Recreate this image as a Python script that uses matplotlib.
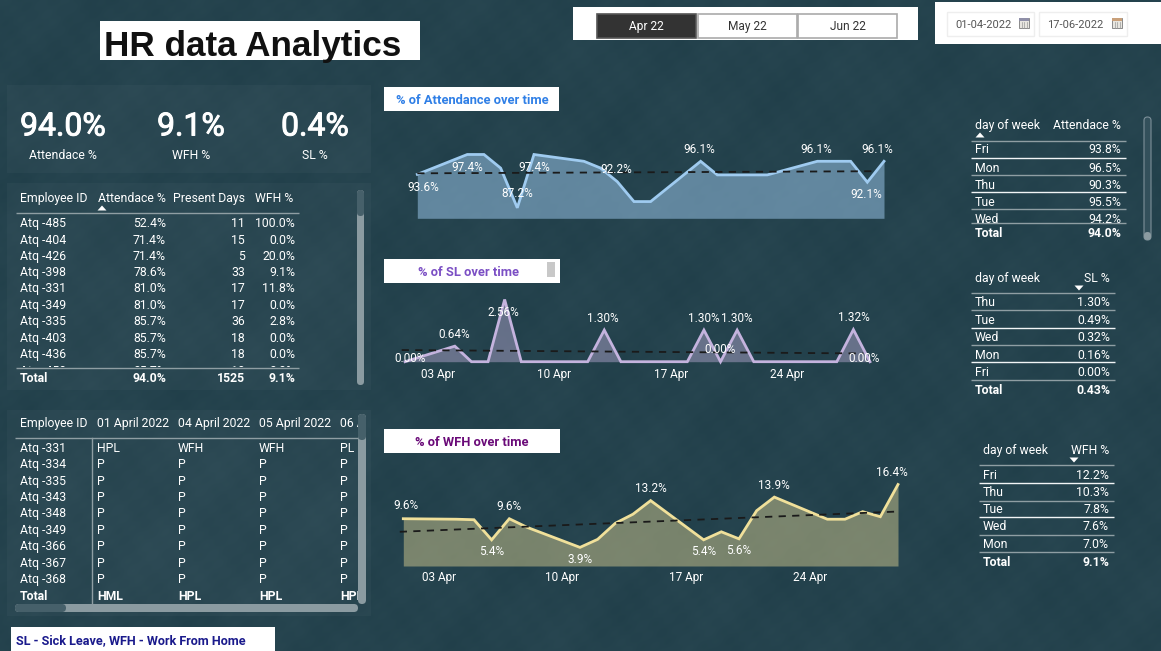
import numpy as np
import matplotlib
matplotlib.use("Agg")
import matplotlib.pyplot as plt
import matplotlib.patheffects as pe
from matplotlib.patches import Rectangle, FancyBboxPatch, Polygon

# 数据
DAYS = [1, 4, 5, 6, 7, 8, 11, 12, 13, 14, 15, 18, 19, 20, 21, 22, 25, 26, 27, 28, 29]
ATT = [93.6, 97.4, 97.4, 94.8, 87.2, 97.4, 96.1, 94.8, 92.2, 88.4, 88.4,
       96.1, 93.5, 93.5, 93.5, 93.5, 96.1, 96.1, 96.1, 92.1, 96.1]
SL = [0.00, 0.64, 0.00, 0.00, 2.56, 0.00, 0.00, 0.00, 1.30, 0.00, 0.00,
      0.00, 1.30, 0.00, 1.30, 0.00, 0.00, 0.00, 0.00, 1.32, 0.00]
WFH = [9.6, 9.5, 9.4, 5.4, 9.6, 7.9, 3.9, 5.5, 8.7, 10.5, 13.2,
       5.4, 7.0, 5.6, 11.2, 13.9, 9.5, 9.5, 11.0, 10.0, 16.4]

ATT_TREND_X, ATT_TREND_Y = [1.0, 28.4], [93.8, 94.2]
SL_TREND_X, SL_TREND_Y = [0.8, 28.6], [0.48, 0.34]
WFH_TREND_X, WFH_TREND_Y = [0.8, 28.8], [7.0, 11.0]

TICK_DAYS = [3, 10, 17, 24]
TICK_LABELS = ["03 Apr", "10 Apr", "17 Apr", "24 Apr"]

KPI_VALUES = ["94.0%", "9.1%", "0.4%"]
KPI_NAMES = ["Attendace %", "WFH %", "SL %"]

EMP_HEADER = ["Employee ID", "Attendace %", "Present Days", "WFH %"]
EMP_IDS = ["Atq -485", "Atq -404", "Atq -426", "Atq -398", "Atq -331", "Atq -349", "Atq -335", "Atq -403", "Atq -436"]
EMP_ATT = ["52.4%", "71.4%", "71.4%", "78.6%", "81.0%", "81.0%", "85.7%", "85.7%", "85.7%"]
EMP_DAYS = ["11", "15", "5", "33", "17", "17", "36", "18", "18"]
EMP_WFH = ["100.0%", "0.0%", "20.0%", "9.1%", "11.8%", "0.0%", "2.8%", "0.0%", "0.0%"]
EMP_CUT = ["Atq -458", "85.7%", "18", "0.0%"]
EMP_TOTAL = ["Total", "94.0%", "1525", "9.1%"]

ROSTER_HEADER = ["Employee ID", "01 April 2022", "04 April 2022", "05 April 2022", "06 April 2022"]
ROSTER_IDS = ["Atq -331", "Atq -334", "Atq -335", "Atq -343", "Atq -348", "Atq -349", "Atq -366", "Atq -367", "Atq -368"]
ROSTER_FIRST = ["HPL", "WFH", "WFH", "PL"]
ROSTER_TOTAL = ["Total", "HML", "HPL", "HPL", "HPL"]

WEEK_ATT_DAY = ["Fri", "Mon", "Thu", "Tue", "Wed"]
WEEK_ATT_VAL = ["93.8%", "96.5%", "90.3%", "95.5%", "94.2%"]
WEEK_SL_DAY = ["Thu", "Tue", "Wed", "Mon", "Fri"]
WEEK_SL_VAL = ["1.30%", "0.49%", "0.32%", "0.16%", "0.00%"]
WEEK_WFH_DAY = ["Fri", "Thu", "Tue", "Wed", "Mon"]
WEEK_WFH_VAL = ["12.2%", "10.3%", "7.8%", "7.6%", "7.0%"]

MONTHS = ["Apr 22", "May 22", "Jun 22"]
DATE_FROM, DATE_TO = "01-04-2022", "17-06-2022"

W, H = 1161, 651
BG = "#22414c"
WHITE = "#ffffff"
GRID = "#8f9ea3"
FS = 8.8
CHART_FS = 8.5
plt.rcParams["font.family"] = ["Roboto", "DejaVu Sans"]

fig = plt.figure(figsize=(W / 100, H / 100), dpi=100, facecolor=BG)
ax = fig.add_axes([0, 0, 1, 1])
ax.set_xlim(0, W)
ax.set_ylim(H, 0)
ax.axis("off")

# 背景的斑驳纹理，只是底色，不是数据
yy, xx = np.mgrid[0:H:2, 0:W:2]
mottle = (np.sin(xx / 23 + yy / 41) + np.sin(xx / 37 - yy / 19 + 1.3) + np.sin(xx / 11 + yy / 13 + 2.1)
          + np.sin(xx / 5 - yy / 7 + 0.4) * 0.7 + np.sin(xx / 3.1 + yy / 2.3) * 0.5)
ax.imshow(mottle, cmap="gray", extent=(0, W, H, 0), aspect="auto", alpha=0.028, zorder=0, interpolation="bilinear")
ax.set_xlim(0, W)
ax.set_ylim(H, 0)


def box(x0, y0, x1, y1, color, z=1, alpha=None, edge="none", lw=0):
    ax.add_patch(Rectangle((x0, y0), x1 - x0, y1 - y0, facecolor=color, edgecolor=edge, linewidth=lw, alpha=alpha, zorder=z))


def txt(x, y, s, size=FS, ha="left", weight="normal", color=WHITE, family=None, clip=None):
    # y 是文字中线，用基线对齐，同一行才不会上下错位
    t = ax.text(x, y + 0.5 * size, s, fontsize=size, ha=ha, va="baseline", fontweight=weight, color=color, zorder=5)
    if family:
        t.set_fontfamily(family)
    if clip:
        t.set_clip_path(Rectangle((clip[0], clip[1]), clip[2] - clip[0], clip[3] - clip[1], transform=ax.transData))
        t.set_clip_on(True)
    return t


def hline(y, x0, x1, color=GRID, lw=1.0):
    ax.plot([x0, x1], [y, y], color=color, lw=lw, zorder=4, solid_capstyle="butt")


def pill(x0, y0, x1, y1, color, z=3, edge="none"):
    r = min(x1 - x0, y1 - y0) / 2
    ax.add_patch(FancyBboxPatch((x0 + r, y0 + r), x1 - x0 - 2 * r, y1 - y0 - 2 * r, boxstyle=f"round,pad={r}",
                                facecolor=color, edgecolor=edge, linewidth=0.8, zorder=z))


def sort_mark(x, y, up):
    # 排序小三角，宽而扁
    tip = y - 2.5 if up else y + 2.5
    base = y + 2.5 if up else y - 2.5
    ax.add_patch(Polygon([(x - 4.5, base), (x + 4.5, base), (x, tip)], facecolor=WHITE, edgecolor="none", zorder=5))


def calendar(x0, y0, color):
    box(x0, y0, x0 + 10, y0 + 10, "#e8e6e0", z=3, edge="#8a8a8a", lw=0.7)
    box(x0, y0, x0 + 10, y0 + 2.5, color, z=4)
    for gx in (2.5, 5, 7.5):
        ax.plot([x0 + gx, x0 + gx], [y0 + 3.5, y0 + 9.5], color="#9a9a9a", lw=0.5, zorder=4)


# 面板背景
for rect in [(7, 85, 371, 173), (7, 183, 371, 390), (7, 410, 371, 616)]:
    box(*rect, WHITE, alpha=0.03)

# 顶部
box(100, 21, 420, 60, WHITE)
txt(104, 43, "HR data Analytics", size=25.3, weight="bold", color="#111111", family="Liberation Sans")
box(573, 7, 918, 40, WHITE)
for i, m in enumerate(MONTHS):
    x0 = 597 + i * 100.5
    box(x0, 14, x0 + 99, 38, "#333333" if i == 0 else WHITE, z=2, edge="#aaaaaa" if i else "#555555", lw=1.2)
    txt(x0 + 49.5, 26, m, ha="center", size=8.6, color=WHITE if i == 0 else "#333333")
box(935, 2, 1161, 44, WHITE)
for x0, x1, s, c in [(947, 1034, DATE_FROM, "#8f8fa8"), (1039, 1127, DATE_TO, "#c9a07a")]:
    box(x0, 12, x1, 36, WHITE, z=2, edge="#eeeeee", lw=1)
    txt(x0 + 8, 24, s, size=8.0, color="#555555")
    calendar(x1 - 15, 18, c)
box(11, 627, 275, 651, WHITE)
txt(16, 639.5, "SL - Sick Leave, WFH - Work From Home", size=9.1, weight="bold", color="#1a1a8c")

# KPI
for cx, val, name in zip([63, 191, 315], KPI_VALUES, KPI_NAMES):
    t = txt(cx, 124, val, size=23, ha="center")
    t.set_path_effects([pe.withStroke(linewidth=0.7, foreground=WHITE)])
    txt(cx, 155, name, ha="center")

# 员工表
emp_right = [None, 166, 245, 295]
txt(20, 198, EMP_HEADER[0])
txt(166, 198, EMP_HEADER[1], ha="right")
txt(245, 198, EMP_HEADER[2], ha="right")
txt(293, 198, EMP_HEADER[3], ha="right")
sort_mark(102, 208, True)
hline(213, 16, 299)
hline(368, 16, 299)
emp_y = [222.7, 239.5, 255.7, 272, 288, 304.5, 320.7, 338, 354]
for row, y in zip(zip(EMP_IDS, EMP_ATT, EMP_DAYS, EMP_WFH), emp_y):
    txt(20, y, row[0])
    for col in (1, 2, 3):
        txt(emp_right[col], y, row[col], ha="right")
cut = (0, 360, 380, 367)
txt(20, 371, EMP_CUT[0], clip=cut)
for col in (1, 2, 3):
    txt(emp_right[col], 371, EMP_CUT[col], ha="right", clip=cut)
txt(20, 378, EMP_TOTAL[0], weight="bold")
for col in (1, 2, 3):
    txt(emp_right[col], 378, EMP_TOTAL[col], ha="right", weight="bold")
pill(357, 190, 364, 385, "#8b9ba1")
pill(357, 190, 364, 216, "#46606a", z=4)

# 考勤表
ros_x = [20, 97, 178, 259, 340]
ros_y = [448, 464, 481, 497, 513, 529.5, 545.5, 562.5, 579]
for x, s in zip(ros_x, ROSTER_HEADER):
    txt(x, 422.7, s, clip=(0, 410, 358, 436))
hline(438, 15, 358)
ax.plot([92, 92], [438, 603], color=GRID, lw=1.0, zorder=4)
for i, (emp, y) in enumerate(zip(ROSTER_IDS, ros_y)):
    txt(20, y, emp)
    for col in range(1, 5):
        txt(ros_x[col], y, ROSTER_FIRST[col - 1] if i == 0 else "P", clip=(0, 430, 358, 604))
for x, s in zip(ros_x, ROSTER_TOTAL):
    txt(x, 595.5, s, weight="bold", clip=(0, 430, 358, 604))
pill(358, 414, 366, 604, "#8b9ba1")
pill(358, 414, 366, 440, "#46606a", z=4)
pill(15, 604, 358, 612, "#8b9ba1")
pill(15, 604, 66, 612, "#46606a", z=4)


# 右侧小表
def week_table(x_day, x_val, line_x1, header_y, head, sort_x, up, days, vals, total, rows_y, lines_y, line_colors):
    txt(x_day, header_y, "day of week")
    txt(x_val, header_y, head, ha="right")
    sort_mark(sort_x, header_y + 10, up)
    for y, c in zip(lines_y, line_colors):
        hline(y, x_day - 4, line_x1, color=c)
    clip = (900, header_y - 10, 1161, lines_y[-1])
    for d, v, y in zip(days, vals, rows_y):
        txt(x_day, y, d, clip=clip)
        txt(x_val, y, v, ha="right", clip=clip)
    total_y = lines_y[-1] + 9.5
    txt(x_day, total_y, "Total", weight="bold")
    txt(x_val, total_y, total, ha="right", weight="bold")


G, L = GRID, "#f2f5f6"
week_table(975, 1121, 1126, 125, "Attendace %", 980, True, WEEK_ATT_DAY, WEEK_ATT_VAL, "94.0%",
           [149, 168, 185, 202, 219], [140.5, 158, 175, 192, 209, 223], [G, L, G, L, G, G])
week_table(975, 1110, 1115, 278, "SL %", 1079, False, WEEK_SL_DAY, WEEK_SL_VAL, "0.43%",
           [302, 320, 337, 355, 372], [293, 310, 328, 344.5, 362, 380], [G, G, L, G, L, G])
week_table(983, 1109, 1114, 450, "WFH %", 1074, False, WEEK_WFH_DAY, WEEK_WFH_VAL, "9.1%",
           [475, 492, 509, 526, 544], [465, 483, 500.5, 517, 534.5, 552], [G, L, G, L, G, G])
pill(1144, 117, 1151, 240, "#33505b", edge="#7d9099")
pill(1144, 232, 1151, 240, "#8b9ba1", z=4)

# 图表标题
for (x0, y0, x1, y1), s, c, cx in [((384, 87, 559, 111), "% of Attendance over time", "#2f7fe6", 472),
                                    ((384, 259, 560, 283), "% of SL over time", "#7b4fc4", 468.5),
                                    ((384, 429, 560, 453), "% of WFH over time", "#6a0a78", 472)]:
    box(x0, y0, x1, y1, WHITE)
    txt(cx, (y0 + y1) / 2 + 0.5, s, ha="center", size=9.3, weight="bold", color=c)
box(547, 262, 555, 277, "#c8c8c8", z=3)


def area_chart(px_x0, px_x1, px_bottom, ymin, px_per_unit, values, trend_x, trend_y, line, alpha, fmt, labels, tick_pad):
    # 把像素范围换算成坐标轴位置
    c = fig.add_axes([px_x0 / W, 1 - px_bottom / H, (px_x1 - px_x0) / W, 80 / H])
    c.patch.set_alpha(0)
    c.set_xlim(DAYS[0], DAYS[-1])
    c.set_ylim(ymin, ymin + 80 / px_per_unit)
    c.fill_between(DAYS, ymin, values, color=line, alpha=alpha, lw=0)
    c.plot(DAYS, values, color=line, lw=2.0, clip_on=False, solid_joinstyle="miter")
    c.plot(trend_x, trend_y, color="#1a1a1a", lw=1.3, ls=(0, (4, 3.5)), clip_on=False)
    for s in c.spines.values():
        s.set_visible(False)
    c.set_yticks([])
    if tick_pad is not None:
        c.set_xticks(TICK_DAYS, TICK_LABELS)
        c.tick_params(axis="x", length=0, pad=tick_pad, labelsize=CHART_FS, labelcolor=WHITE)
    else:
        c.set_xticks([])
    for day, dx, dy in labels:
        v = values[DAYS.index(day)]
        c.annotate(fmt.format(v), (day, v), xytext=(dx, dy), textcoords="offset pixels",
                   ha="center", va="center", fontsize=CHART_FS, color=WHITE, annotation_clip=False)


area_chart(417.3, 884, 218.3, 85.2, 5.23, ATT, ATT_TREND_X, ATT_TREND_Y, "#9fcbf0", 0.5, "{:.1f}%",
           [(1, 6, -13), (4, 0, -13), (7, 0, 14), (8, 0, -13), (13, -1, 12), (18, -1, 12), (25, -1, 12), (28, -1, -12), (29, -7, 12)],
           None)
area_chart(405, 870, 361.7, 0.0, 24.3, SL, SL_TREND_X, SL_TREND_Y, "#c4b3de", 0.42, "{:.2f}%",
           [(1, 5, 3), (4, -1, 12), (7, -1, -13), (13, -1, 12), (19, 0, 12), (20, 0, 12), (21, 0, 12), (28, 0, 12), (29, -6, 3)],
           4.5)
area_chart(403.3, 898, 566, 0.2, 5.03, WFH, WFH_TREND_X, WFH_TREND_Y, "#f0e09a", 0.42, "{:.1f}%",
           [(1, 3, 13), (6, 0, -12), (7, 0, 12), (11, 0, -12), (15, 0, 12), (18, 0, -12), (20, 0, -12), (22, 0, 12), (29, -6, 12)],
           3.5)

fig.savefig("out.png", dpi=100, facecolor=fig.get_facecolor())
